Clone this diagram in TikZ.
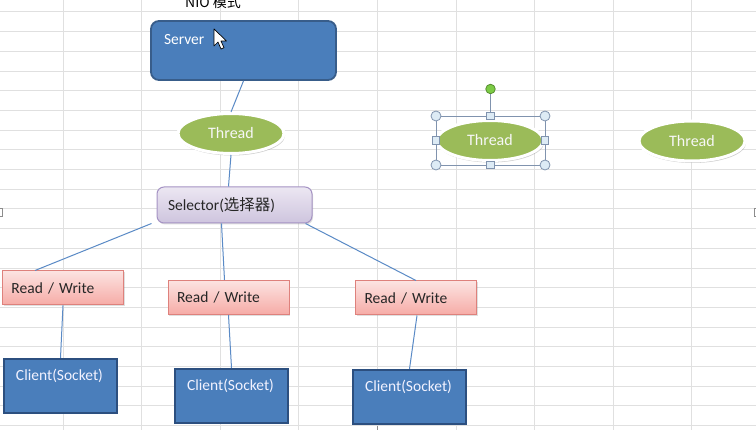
\documentclass[tikz,border=0pt]{standalone}
\usepackage{fontspec}
\setmainfont{Carlito}
\newfontfamily\cjk{Noto Sans CJK SC}
\usetikzlibrary{shapes.geometric,shadows,calc}
\definecolor{gridc}{HTML}{E0E0E0}
\definecolor{srvblue}{HTML}{4A7EBB}
\definecolor{srvborder}{HTML}{385D8A}
\definecolor{cliborder}{HTML}{2C4F7F}
\definecolor{thrgreen}{HTML}{9BBB59}
\definecolor{seltop}{HTML}{ECE7F2}
\definecolor{selbot}{HTML}{CEC4DE}
\definecolor{selborder}{HTML}{A593C4}
\definecolor{rwtop}{HTML}{FCE3E1}
\definecolor{rwbot}{HTML}{F6ABA6}
\definecolor{rwborder}{HTML}{DE817C}
\definecolor{linkc}{HTML}{5A8AC6}
\definecolor{handlefill}{HTML}{DDEBF5}
\definecolor{handledraw}{HTML}{8093AE}
\definecolor{rotgreen}{HTML}{7CCB45}
\tikzset{
  gridline/.style={draw=gridc, line width=1},
  basefont/.style={font=\fontsize{15.5}{18}\selectfont},
  serverbox/.style={basefont, rectangle, rounded corners=8, fill=srvblue, draw=srvborder, line width=1.8,
    text width=159, inner xsep=13, inner ysep=6, text height=18, text depth=29, align=left, text=white},
  threadell/.style={font=\fontsize{16}{18}\selectfont, ellipse, fill=thrgreen, draw=white, line width=3, minimum width=106,
    minimum height=40, inner sep=0, text=white!94!gray,
    drop shadow={shadow xshift=1pt, shadow yshift=-2pt, opacity=0.35, fill=black!55}},
  selbox/.style={basefont, rectangle, rounded corners=7, top color=seltop, bottom color=selbot, draw=selborder,
    line width=1, text width=133, inner xsep=11, minimum height=36, align=left, text=black!85,
    drop shadow={shadow xshift=1pt, shadow yshift=-1.5pt, opacity=0.25, fill=black!50}},
  rwbox/.style={basefont, rectangle, top color=rwtop, bottom color=rwbot, draw=rwborder, line width=1,
    text width=103, inner xsep=9, minimum height=34, align=left, text=black!85,
    drop shadow={shadow xshift=1pt, shadow yshift=-1.5pt, opacity=0.25, fill=black!50}},
  clientbox/.style={basefont, rectangle, fill=srvblue, draw=cliborder, line width=2.2,
    text width=89, inner xsep=12, inner ysep=6, text height=16, text depth=26, align=left, text=white!95!blue},
  link/.style={draw=linkc, line width=1},
  handlec/.style={circle, fill=handlefill, draw=handledraw, line width=0.8, minimum size=10, inner sep=0},
  handles/.style={rectangle, fill=handlefill, draw=handledraw, line width=0.8, minimum size=7.5, inner sep=0},
}
\begin{document}
\begin{tikzpicture}[x=1pt,y=-1pt]
\useasboundingbox (0,0) rectangle (756,430);
\fill[white] (0,0) rectangle (756,430);
% spreadsheet grid
\foreach \i in {0,...,8} \draw[gridline] ({63+78.6*\i},0) -- ({63+78.6*\i},430);
\foreach \j in {0,...,21} \draw[gridline] (0,{12+19.7*\j}) -- (756,{12+19.7*\j});
% page break marks
\draw[black!45, line width=0.8] (0,208) -- (2,208) -- (2,216) -- (0,216);
\draw[black!45, line width=0.8] (756,208) -- (754,208) -- (754,216) -- (756,216);
\draw[black!45, line width=0.8] (377,426) -- (377,430);

% title
\node[font=\cjk\fontsize{14}{16}\selectfont, anchor=base west, inner sep=0] (title) at (185,8) {NIO 模式};

% nodes
\node[serverbox] (srv) at (243.5,50.5) {Server};
\node[threadell] (t1) at (231,133.5) {Thread};
\node[selbox] (sel) at (234.5,205) {Selector({\cjk 选择器})};
\node[rwbox] (rw1) at (63,288) {Read / Write};
\node[rwbox] (rw2) at (228.5,297.5) {Read / Write};
\node[rwbox] (rw3) at (416,298) {Read / Write};
\node[clientbox] (c1) at (60.5,386) {Client(Socket)};
\node[clientbox] (c2) at (231.5,396) {Client(Socket)};
\node[clientbox] (c3) at (409.5,397) {Client(Socket)};
\node[threadell] (t2) at (490,140.5) {Thread};
\node[threadell] (t3) at (692,141) {Thread};

% connectors
\draw[link] (srv.south) -- (t1.north);
\draw[link] (t1.south) -- ([xshift=-6pt]sel.north);
\draw[link] ([xshift=-5pt]sel.south west) -- ([xshift=-28pt]rw1.north);
\draw[link] ([xshift=-13pt]sel.south) -- ([xshift=-4pt]rw2.north);
\draw[link] ([xshift=-7pt]sel.south east) -- (rw3.north);
\draw[link] (rw1.south) -- (c1.north);
\draw[link] (rw2.south) -- (c2.north);
\draw[link] ([xshift=1pt]rw3.south) -- (c3.north);

% selection frame around second thread
\coordinate (sNW) at (436,116);
\coordinate (sNE) at (545,116);
\coordinate (sSW) at (436,165);
\coordinate (sSE) at (545,165);
\coordinate (sN) at (490.5,116);
\coordinate (sS) at (490.5,165);
\coordinate (sW) at (436,140.5);
\coordinate (sE) at (545,140.5);
\draw[handledraw, line width=0.9] (sNW) rectangle (sSE);
\node[circle, fill=rotgreen, draw=rotgreen!70!black, line width=0.8, minimum size=9.5, inner sep=0] (rot) at (490.5,89) {};
\draw[handledraw, line width=0.9] (rot.south) -- (sN);
\foreach \c in {sNW,sNE,sSW,sSE} \node[handlec] at (\c) {};
\foreach \c in {sN,sS,sW,sE} \node[handles] at (\c) {};

% mouse pointer
\draw[fill=white, draw=black, line width=0.7, line join=round] (214,29) -- ++(0,17) -- ++(4,-4) -- ++(3,7) -- ++(3,-1.3) -- ++(-3,-6.7) -- ++(5.5,0) -- cycle;
\end{tikzpicture}
\end{document}
